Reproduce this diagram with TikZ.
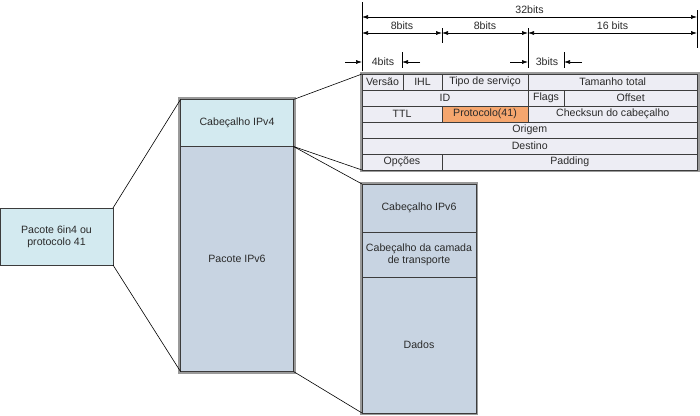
\documentclass[tikz,border=0pt]{standalone}
\usepackage{fontspec}
\setmainfont{Liberation Sans}
\usetikzlibrary{arrows.meta}
\definecolor{cyanl}{HTML}{D3EAF0}
\definecolor{ipsix}{HTML}{C8D4E2}
\definecolor{rowc}{HTML}{EDEDF4}
\definecolor{orng}{HTML}{F5A66E}
\definecolor{bordg}{HTML}{9A9A9A}
\definecolor{darkl}{HTML}{3C3C3C}
\definecolor{txt}{HTML}{2A2A2A}
\tikzset{
  every node/.style={font=\fontsize{10.6}{12.2}\selectfont, text=txt},
  cell/.style={draw=darkl, line width=0.7pt, fill=rowc, anchor=north west, inner sep=0pt, outer sep=0pt},
  blk/.style={draw=darkl, line width=0.7pt, anchor=north west, inner sep=0pt, outer sep=0pt, align=center},
  frameo/.style={draw=bordg, line width=2.2pt},
  link/.style={draw=black, line width=0.6pt},
  dim/.style={draw=black, line width=0.6pt},
  dimarr/.style={dim, {Latex[length=6pt,width=4pt]}-{Latex[length=6pt,width=4pt]}},
  inarr/.style={dim, -{Latex[length=6pt,width=4pt]}},
  lbl/.style={inner sep=0pt}
}
\newcommand{\cellat}[6]{% name, x1, y1, x2, y2, text
  \node[cell, minimum width=#4pt-#2pt, minimum height=#5pt-#3pt] (#1) at (#2,#3) {};
  \node[lbl] at (#1.center) {#6};}
\begin{document}
\begin{tikzpicture}[x=1pt,y=-1pt]
\useasboundingbox (0,0) rectangle (700,415);

% left box
\node[blk, fill=cyanl, minimum width=113pt, minimum height=57pt] (pk) at (0,208) {};
\node[lbl, align=center] at (pk.center) {Pacote 6in4 ou\\protocolo 41};

% middle tall box
\draw[frameo, fill=ipsix] (179.5,98.5) rectangle (294.5,372.5);
\node[blk, fill=cyanl, minimum width=113pt, minimum height=47pt] (v4) at (180.5,99.5) {};
\node[blk, fill=ipsix, minimum width=113pt, minimum height=225pt] (v6) at (180.5,146.5) {};
\node[lbl] at (v4.center) {Cabeçalho IPv4};
\node[lbl] at (v6.center) {Pacote IPv6};

% table
\draw[frameo] (361,73) rectangle (698.5,171);
\cellat{versao}{362}{74}{403}{90}{Versão}
\cellat{ihl}{403}{74}{442}{90}{IHL}
\cellat{tipo}{442}{74}{528}{90}{Tipo de serviço}
\cellat{tam}{528}{74}{697.5}{90}{Tamanho total}
\cellat{id}{362}{90}{528}{106}{ID}
\cellat{flags}{528}{90}{564}{106}{Flags}
\cellat{offset}{564}{90}{697.5}{106}{Offset}
\cellat{ttl}{362}{106}{442}{122}{TTL}
\node[cell, fill=orng, minimum width=86pt, minimum height=16pt] (prot) at (442,106) {};
\node[lbl] at (prot.center) {Protocolo(41)};
\cellat{chk}{528}{106}{697.5}{122}{Checksun do cabeçalho}
\cellat{orig}{362}{122}{697.5}{138}{Origem}
\cellat{dest}{362}{138}{697.5}{154}{Destino}
\cellat{opc}{362}{154}{442}{170}{Opções}
\cellat{pad}{442}{154}{697.5}{170}{Padding}

% right ipv6 box
\draw[frameo, fill=ipsix] (361,183) rectangle (477,414);
\node[blk, fill=ipsix, minimum width=114pt, minimum height=48pt] (h6) at (362,184) {};
\node[blk, fill=ipsix, minimum width=114pt, minimum height=45pt] (tr) at (362,232) {};
\node[blk, fill=ipsix, minimum width=114pt, minimum height=136pt] (dd) at (362,277) {};
\node[lbl] at (h6.center) {Cabeçalho IPv6};
\node[lbl, align=center] at (tr.center) {Cabeçalho da camada\\de transporte};
\node[lbl] at (dd.center) {Dados};

% connectors
\draw[link] (pk.north east) -- (v4.north west);
\draw[link] (pk.south east) -- (v6.south west);
\draw[link] (v4.north east) -- (versao.north west);
\draw[link] (v4.south east) -- (opc.south west);
\draw[link] (v4.south east) -- (h6.north west);
\draw[link] (v6.south east) -- (dd.south west);

% dimension lines
\coordinate (l0) at (362,2);
\coordinate (l1) at (362,71);
\coordinate (r0) at (697,10);
\coordinate (r1) at (697,48);
\draw[dim] (l0) -- (l1);
\draw[dim] (r0) -- (r1);
\coordinate (t8a) at (442,28);
\coordinate (t8b) at (442,43);
\draw[dim] (t8a) -- (t8b);
\coordinate (t16a) at (528,28);
\coordinate (t16b) at (528,68);
\draw[dim] (t16a) -- (t16b);
\coordinate (t4a) at (402,52);
\coordinate (t4b) at (402,68);
\draw[dim] (t4a) -- (t4b);
\coordinate (t3a) at (564,52);
\coordinate (t3b) at (564,68);
\draw[dim] (t3a) -- (t3b);

\coordinate (a32l) at (362,17);
\coordinate (a32r) at (697,17);
\draw[dimarr] (a32l) -- (a32r) node[midway, above=3pt, lbl] (b32) {32bits};
\coordinate (a8l) at (362,33);
\coordinate (a8m) at (442,33);
\coordinate (a8n) at (528,33);
\coordinate (a16r) at (697,33);
\draw[dimarr] (a8l) -- (a8m) node[midway, above=3pt, lbl] (b8a) {8bits};
\draw[dimarr] (a8m) -- (a8n) node[midway, above=3pt, lbl] (b8b) {8bits};
\draw[dimarr] (a8n) -- (a16r) node[midway, above=3pt, lbl] (b16) {16 bits};

\coordinate (i4s) at (345,62);
\coordinate (i4e) at (362,62);
\coordinate (i4t) at (420,62);
\coordinate (i4u) at (402,62);
\draw[inarr] (i4s) -- (i4e);
\draw[inarr] (i4t) -- (i4u);
\node[lbl] (b4) at (383,62) {4bits};
\coordinate (i3s) at (510,62);
\coordinate (i3e) at (528,62);
\coordinate (i3t) at (582,62);
\coordinate (i3u) at (564,62);
\draw[inarr] (i3s) -- (i3e);
\draw[inarr] (i3t) -- (i3u);
\node[lbl] (b3) at (547,62) {3bits};
\end{tikzpicture}
\end{document}
